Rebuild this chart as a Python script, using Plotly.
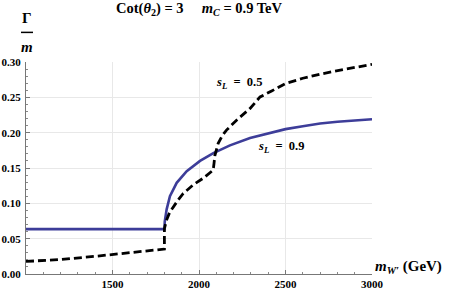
import plotly.graph_objects as go

# ---- data ----
mw_sl09 = [1000, 1800, 1802, 1806, 1813, 1832, 1871, 1929, 2006, 2083, 2179, 2295, 2400, 2500, 2600, 2700, 2800, 2900, 3000]
g_sl09 = [0.0635, 0.0635, 0.074, 0.082, 0.0915, 0.110, 0.129, 0.1455, 0.160, 0.171, 0.182, 0.1925, 0.199, 0.205, 0.209, 0.213, 0.2155, 0.2175, 0.219]

mw_sl05 = [1000, 1200, 1400, 1600, 1800, 1800, 1804, 1812, 1830, 1851, 1880, 1909, 1966, 2024, 2072, 2082, 2087, 2092, 2111, 2135, 2159, 2217, 2294, 2353, 2420, 2500, 2600, 2717, 2850, 3000]
g_sl05 = [0.0178, 0.0205, 0.025, 0.0298, 0.0353, 0.064, 0.069, 0.076, 0.087, 0.0954, 0.105, 0.114, 0.126, 0.1355, 0.1448, 0.147, 0.157, 0.168, 0.185, 0.196, 0.2036, 0.2177, 0.234, 0.2506, 0.259, 0.2695, 0.277, 0.2836, 0.290, 0.2967]

x_ticks = [1500, 2000, 2500, 3000]
y_ticks = [0.00, 0.05, 0.10, 0.15, 0.20, 0.25, 0.30]
y_ticklabels = ["0.00", "0.05", "0.10", "0.15", "0.20", "0.25", "0.30"]

SERIF = "Liberation Serif"
BLUE = "#3D3D99"

fig = go.Figure()
fig.add_trace(go.Scatter(x=mw_sl09, y=g_sl09, mode="lines",
                         line=dict(color=BLUE, width=2.6), showlegend=False))
fig.add_trace(go.Scatter(x=mw_sl05, y=g_sl05, mode="lines",
                         line=dict(color="black", width=2.8, dash="8px,4px"), showlegend=False))

axis_common = dict(ticks="inside", ticklen=4, tickcolor="#777", showline=True, linecolor="#777",
                   linewidth=1, showgrid=True, gridcolor="#e8e8e8", gridwidth=1, zeroline=False,
                   automargin=False, tickfont=dict(family=SERIF, size=11, weight="bold"))

fig.update_layout(
    width=450, height=294,
    margin=dict(l=26, r=78, t=62, b=20),
    plot_bgcolor="white", paper_bgcolor="white",
    font=dict(family=SERIF, color="black"),
    xaxis=dict(range=[1000, 3000], tickvals=x_ticks, ticklabelstandoff=0,
               minor=dict(dtick=100, ticks="inside", ticklen=2, tickcolor="#888", showgrid=False),
               **axis_common),
    yaxis=dict(range=[0, 0.3], tickvals=y_ticks, ticktext=y_ticklabels, ticklabelstandoff=2,
               minor=dict(dtick=0.01, ticks="inside", ticklen=2, tickcolor="#888", showgrid=False),
               **axis_common),
)

# title
fig.add_annotation(text="Cot(<i>θ</i><sub>2</sub>) = 3&nbsp;&nbsp;&nbsp;&nbsp;&nbsp;<i>m</i><sub><i>C</i></sub> = 0.9 TeV",
                   xref="paper", yref="paper", x=0.5, y=(274.3 - 9) / 212.6, xanchor="center", yanchor="middle",
                   showarrow=False, font=dict(family=SERIF, size=14.5, weight="bold"))
# y-axis label  Γ / m
fig.add_annotation(text="Γ", xref="paper", yref="paper", x=(27 - 26) / 346, y=(274.3 - 18) / 212.6,
                   xanchor="center", yanchor="middle", showarrow=False,
                   font=dict(family=SERIF, size=15, weight="bold"))
fig.add_shape(type="line", xref="paper", yref="paper",
              x0=(21 - 26) / 346, x1=(33 - 26) / 346,
              y0=(274.3 - 32) / 212.6, y1=(274.3 - 32) / 212.6,
              line=dict(color="black", width=1.5))
fig.add_annotation(text="<i>m</i>", xref="paper", yref="paper", x=(27 - 26) / 346, y=(274.3 - 47) / 212.6,
                   xanchor="center", yanchor="middle", showarrow=False,
                   font=dict(family=SERIF, size=15, weight="bold"))
# x-axis label
fig.add_annotation(text="<i>m</i><sub><i>W′</i></sub> (GeV)", xref="paper", yref="paper",
                   x=(373 - 26) / 346, y=(274.3 - 267) / 212.6, xanchor="left", yanchor="middle",
                   showarrow=False, font=dict(family=SERIF, size=15, weight="bold"))
# curve labels
fig.add_annotation(text="<i>s</i><sub><i>L</i></sub>&nbsp; =&nbsp; 0.5", x=2230, y=(274.3 - 83) / 708.7,
                   xanchor="center", yanchor="middle", showarrow=False,
                   font=dict(family=SERIF, size=12.5, weight="bold"))
fig.add_annotation(text="<i>s</i><sub><i>L</i></sub>&nbsp; =&nbsp; 0.9", x=2475, y=(274.3 - 147) / 708.7,
                   xanchor="center", yanchor="middle", showarrow=False,
                   font=dict(family=SERIF, size=12.5, weight="bold"))

fig.write_html("out.html", config={"displayModeBar": False},
               post_script="document.body.style.margin='0';")
